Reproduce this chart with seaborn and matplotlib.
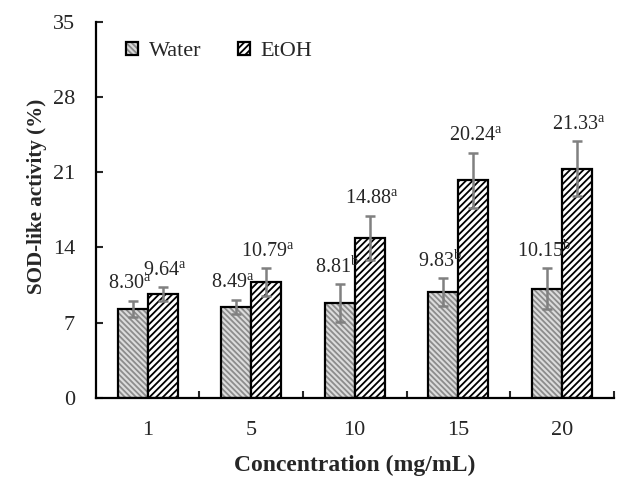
import numpy as np
import pandas as pd
import seaborn as sns
import matplotlib
matplotlib.use('Agg')
import matplotlib.pyplot as plt
from matplotlib.patches import Patch

# data
concentrations = ['1', '5', '10', '15', '20']
water = [8.30, 8.49, 8.81, 9.83, 10.15]
etoh = [9.64, 10.79, 14.88, 20.24, 21.33]
water_err = [0.74, 0.65, 1.74, 1.29, 1.91]
etoh_err = [0.65, 1.29, 2.06, 2.56, 2.53]
water_letters = ['a', 'a', 'b', 'b', 'b']
etoh_letters = ['a', 'a', 'a', 'a', 'a']


def main():
    sns.set_theme(style='white')
    plt.rcParams['font.family'] = ['Liberation Serif', 'DejaVu Serif']
    plt.rcParams['mathtext.fontset'] = 'custom'
    plt.rcParams['mathtext.rm'] = 'Liberation Serif'
    plt.rcParams['hatch.linewidth'] = 1.3

    df = pd.DataFrame({
        'conc': concentrations * 2,
        'value': water + etoh,
        'solvent': ['Water'] * 5 + ['EtOH'] * 5,
    })

    fig = plt.figure(figsize=(6.18, 4.84), dpi=100)
    ax = fig.add_axes([0.155, 0.178, 0.838, 0.777])

    sns.barplot(data=df, x='conc', y='value', hue='solvent', ax=ax,
                order=concentrations, hue_order=['Water', 'EtOH'],
                errorbar=None, width=0.58, legend=False,
                edgecolor='black', linewidth=1.6)

    water_face = '#dcdcdc'
    water_hatch = '#8c8c8c'
    n = len(concentrations)
    bars = ax.patches[:2 * n]
    errs = water_err + etoh_err
    letters = water_letters + etoh_letters
    vals = water + etoh
    for i, b in enumerate(bars):
        if i < n:
            b.set_facecolor(water_face)
            b.set_hatch('\\\\\\\\\\\\')
            b._hatch_color = matplotlib.colors.to_rgba(water_hatch)
        else:
            b.set_facecolor('white')
            b.set_hatch('/////')
            b._hatch_color = matplotlib.colors.to_rgba('black')
        xc = b.get_x() + b.get_width() / 2
        ax.errorbar(xc, vals[i], yerr=errs[i], fmt='none', ecolor='#808080',
                    elinewidth=1.8, capsize=3.5, capthick=1.8, zorder=5)
        # water labels shifted a touch left so neighbours don't collide
        dx = -0.03 if i < n else 0.02
        ax.text(xc + dx, vals[i] + errs[i] + 0.6,
                '%.2f$^{\\mathrm{%s}}$' % (vals[i], letters[i]),
                ha='center', va='bottom', fontsize=14.5)

    ax.set_xlim(-0.5, n - 0.5)
    ax.set_ylim(0, 35)
    ax.set_yticks(np.arange(0, 36, 7))
    ax.set_xticks(range(n))
    ax.set_xticklabels(concentrations)
    ax.set_xticks(np.arange(0.5, n, 1.0), minor=True)
    ax.tick_params(axis='x', which='major', length=0, labelsize=16, pad=17)
    ax.tick_params(axis='x', which='minor', direction='in', length=5,
                   width=1.5, bottom=True)
    ax.tick_params(axis='y', direction='in', length=5, width=1.5,
                   left=True, labelsize=16, pad=15)

    for s in ['top', 'right']:
        ax.spines[s].set_visible(False)
    for s in ['left', 'bottom']:
        ax.spines[s].set_color('black')
        ax.spines[s].set_linewidth(1.6)

    ax.set_xlabel('Concentration (mg/mL)', fontsize=17, fontweight='bold',
                  labelpad=10)
    ax.set_ylabel('SOD-like activity (%)', fontsize=15.2, fontweight='bold')
    ax.yaxis.set_label_coords(-0.095, 0.535)

    h1 = Patch(facecolor=water_face, edgecolor='black', linewidth=1.6,
               hatch='\\\\\\\\\\\\', label='Water')
    h1._hatch_color = matplotlib.colors.to_rgba(water_hatch)
    h2 = Patch(facecolor='white', edgecolor='black', hatch='/////',
               linewidth=1.6, label='EtOH')
    ax.legend(handles=[h1, h2], loc='upper left', bbox_to_anchor=(0.02, 1.0),
              ncol=2, frameon=False, fontsize=16, handlelength=0.55,
              handleheight=0.55, handletextpad=0.5, columnspacing=1.6)

    fig.savefig('out.png', dpi=100)


if __name__ == '__main__':
    main()
